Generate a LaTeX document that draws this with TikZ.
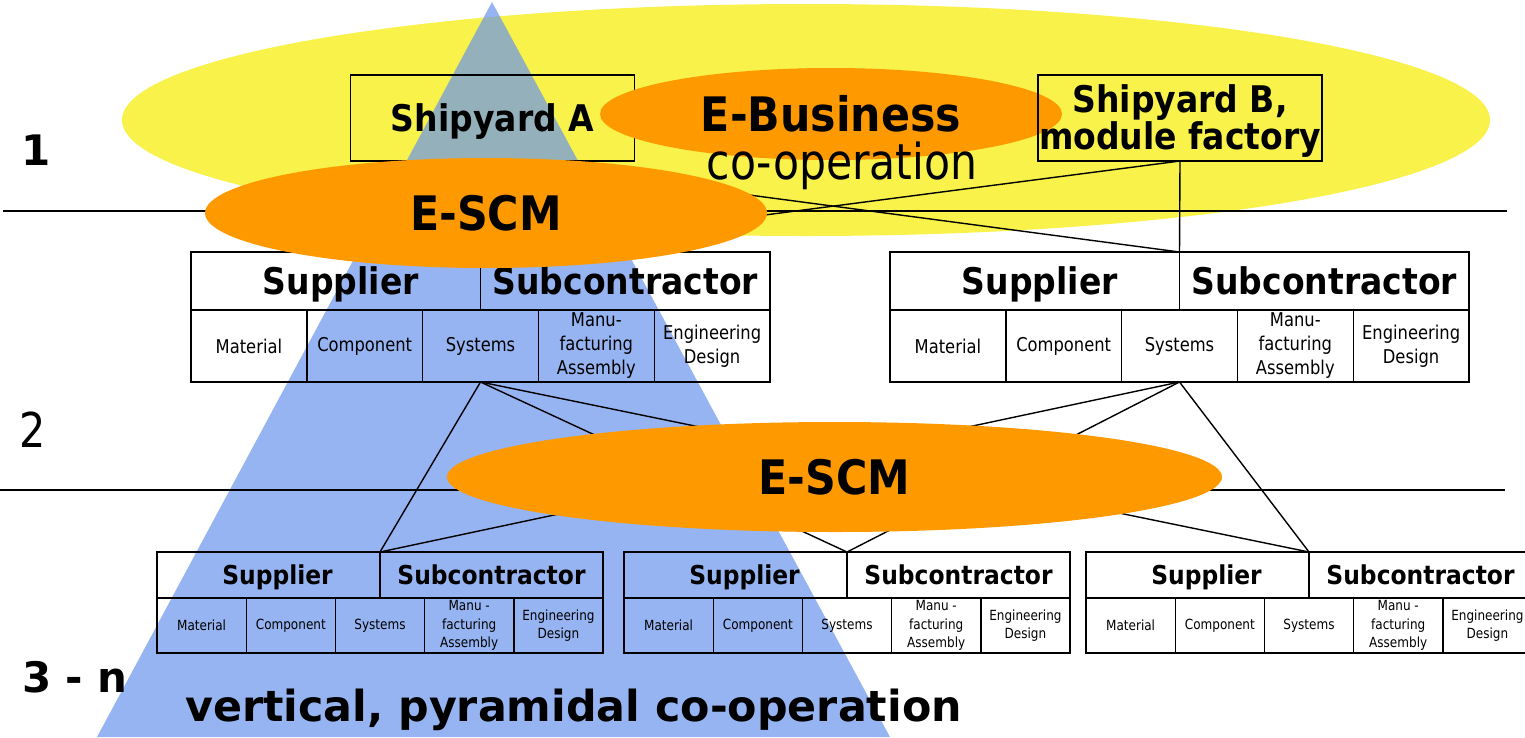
\documentclass[tikz,border=0pt]{standalone}
\usepackage{fontspec}
\setmainfont{DejaVu Sans}
\newfontfamily\narrowsans{DejaVu Sans}[FakeStretch=0.86]
\newfontfamily\heavysans{DejaVu Sans}[FakeStretch=0.9]
\usetikzlibrary{shapes.geometric}
\definecolor{coopyellow}{RGB}{248,242,74}
\definecolor{pyramidblue}{RGB}{105,148,236}
\definecolor{scmorange}{RGB}{255,153,0}
\newcommand\fsz[2]{\fontsize{#1}{#2}\selectfont}
\pgfdeclarelayer{backdrop}
\pgfdeclarelayer{links}
\pgfsetlayers{backdrop,links,main}
\tikzset{
  frame/.style={draw, line width=1.4pt, inner sep=0pt, outer sep=0pt, anchor=north west},
  hdrtwo/.style={frame, minimum width=289.5pt, minimum height=58pt, font=\heavysans\bfseries\fsz{36.7}{38}, text depth=0pt},
  celltwo/.style={frame, minimum width=115.8pt, minimum height=72pt, align=center, font=\narrowsans\fsz{19}{24}},
  hdrthree/.style={frame, minimum width=223pt, minimum height=46pt, font=\heavysans\bfseries\fsz{26}{27}, text depth=0pt},
  cellthree/.style={frame, minimum width=89.2pt, minimum height=55pt, align=center, font=\narrowsans\fsz{14}{18.5}},
  yard/.style={draw, line width=1.4pt, inner sep=0pt, outer sep=0pt, minimum width=284pt, minimum height=86pt},
  yardtext/.style={align=center, inner sep=0pt, font=\heavysans\bfseries\fsz{36.7}{35}},
  oval/.style={ellipse, fill=scmorange, inner sep=0pt, font=\heavysans\bfseries\fsz{47.5}{48}},
  link/.style={line width=1.4pt},
  rule/.style={line width=1.5pt},
  level/.style={font=\bfseries\fsz{42}{44}},
}
% one supplier/subcontractor block of tier 2
\newcommand\tiertwo[3]{%
  \node[hdrtwo] (#1-sup) at (#2,#3) {\hspace*{10pt}Supplier};
  \node[hdrtwo] (#1-sub) at (#1-sup.north east) {Subcontractor};
  \node[celltwo] (#1-c1) at (#1-sup.south west) {Material};
  \node[celltwo] (#1-c2) at (#1-c1.north east) {Component};
  \node[celltwo] (#1-c3) at (#1-c2.north east) {Systems};
  \node[celltwo] (#1-c4) at (#1-c3.north east) {Manu-\\facturing\\Assembly};
  \node[celltwo] (#1-c5) at (#1-c4.north east) {Engineering\\Design};
}
% one supplier/subcontractor block of tiers 3 - n
\newcommand\tierthree[3]{%
  \node[hdrthree] (#1-sup) at (#2,#3) {\hspace*{18pt}Supplier};
  \node[hdrthree] (#1-sub) at (#1-sup.north east) {Subcontractor};
  \node[cellthree] (#1-c1) at (#1-sup.south west) {Material};
  \node[cellthree] (#1-c2) at (#1-c1.north east) {Component};
  \node[cellthree] (#1-c3) at (#1-c2.north east) {Systems};
  \node[cellthree] (#1-c4) at (#1-c3.north east) {Manu -\\facturing\\Assembly};
  \node[cellthree] (#1-c5) at (#1-c4.north east) {Engineering\\Design};
}
\begin{document}
\begin{tikzpicture}[x=1pt,y=-1pt]
\useasboundingbox (0,0) rectangle (1525,737);

% horizontal co-operation field and vertical pyramid
\begin{pgfonlayer}{backdrop}
  \node[ellipse, fill=coopyellow, inner sep=0pt, minimum width=1368pt, minimum height=232pt] (coop) at (806,120) {};
  \fill[pyramidblue, fill opacity=0.7] (492,2) -- (97,737) -- (890,737) -- cycle;
\end{pgfonlayer}

% tier 1
\node[yard] (shipA) at (492.5,118) {};
\node[yardtext, text depth=0pt] (shipAtext) at (shipA) {Shipyard A};

% tier 2
\tiertwo{L2a}{191}{252}
\tiertwo{L2b}{890}{252}

% tiers 3 - n
\tierthree{L3a}{157}{552}
\tierthree{L3b}{624}{552}
\tierthree{L3c}{1086}{552}

% E-SCM links between tiers
\node[oval, minimum width=562pt, minimum height=110pt] (escmA) at (486,213) {E-SCM};
\node[oval, minimum width=775pt, minimum height=110pt] (escmB) at (834.5,477) {E-SCM};

% E-Business between the shipyards
\node[oval, minimum width=462pt, minimum height=92pt] (ebiz) at (831,114) {E-Business};
\node[font=\narrowsans\fsz{49.5}{50}, anchor=base] (coopword) at (842,179) {co-operation};
\node[yard] (shipB) at (1180,118) {};
\node[yardtext] (shipBtext) at (1180,121) {Shipyard B,\\module factory};

% level labels
\node[level] (lv1) at (36,150) {1};
\node[font=\narrowsans\fsz{48}{50}] (lv2) at (33,430) {2};
\node[level] (lv3) at (75,677) {3 - n};
\node[font=\bfseries\fsz{42.8}{44}, anchor=base] (pyr) at (573.5,721) {vertical, pyramidal co-operation};

% level separators and supply links
\begin{pgfonlayer}{links}
  \coordinate (r1w) at (3,211);
  \coordinate (r1e) at (1507,211);
  \coordinate (r2w) at (0,490);
  \coordinate (r2e) at (1505,490);
  \draw[rule] (r1w) -- (r1e);
  \draw[rule] (r2w) -- (r2e);
  \draw[link] (shipA.south) -- (L2b-sup.north east);
  \draw[link] (shipB.south) -- (L2a-sup.north east);
  \draw[link] (shipB.south) -- (L2b-sup.north east);
  \foreach \src in {L2a,L2b}{
    \foreach \dst in {L3a,L3b,L3c}{
      \draw[link] (\src-c3.south) -- (\dst-sup.north east);
    }
  }
\end{pgfonlayer}
\end{tikzpicture}
\end{document}
